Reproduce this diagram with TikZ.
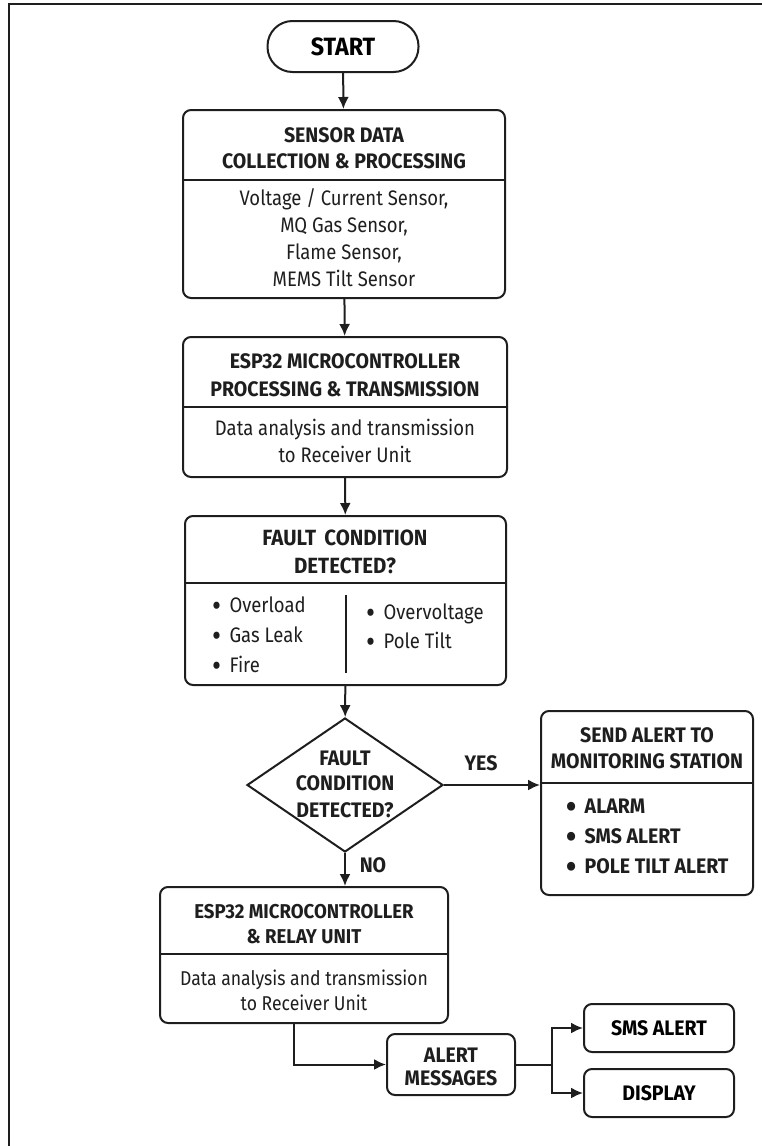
\documentclass[tikz,border=0pt]{standalone}
\usepackage{fontspec}
\setmainfont{Fira Sans}[FakeStretch=0.88, BoldFeatures={FakeStretch=0.93}]
\usetikzlibrary{positioning,shapes.geometric,arrows.meta}
\definecolor{ink}{RGB}{30,30,30}
\newcommand{\blt}{\smash{\raisebox{-0.2em}{\scalebox{1.5}{•}}}\hspace{0.4em}}

\begin{document}
\begin{tikzpicture}[x=1pt,y=-1pt]
	\tikzstyle{box}=[draw=ink, line width=2pt, rounded corners=8pt, inner sep=0pt]
	\tikzstyle{ttl}=[font=\bfseries\fontsize{21}{25}\selectfont, text=ink, anchor=base, inner sep=0pt]
	\tikzstyle{txt}=[font=\fontsize{21}{25}\selectfont, text=ink, anchor=base, inner sep=0pt]
	\tikzstyle{sep}=[draw=ink, line width=1.8pt]
	\tikzstyle{flow}=[draw=ink, line width=2pt, -{Latex[length=12pt,width=11pt]}]
	
	\useasboundingbox (0,0) rectangle (762,1146);
	\draw[ink, line width=2.5pt] (9,1146) -- (9,4) -- (762,4);
	
	% start
	\node at (343,46.5) [box, rounded corners=25pt, minimum width=151pt, minimum height=51pt, font=\bfseries\fontsize{25}{29}\selectfont] (start) {START};
	
	% sensor block
	\node at (344,204) [box, minimum width=322pt, minimum height=188pt] (sens) {};
	\draw[sep] (sens.west |- 0,180) -- (sens.east |- 0,180);
	\node at (344,142) [ttl] (sensT1) {SENSOR DATA};
	\node at (344,168) [ttl] (sensT2) {COLLECTION \& PROCESSING};
	\node at (344,205) [txt] (sensL1) {Voltage / Current Sensor,};
	\node at (344,232) [txt] (sensL2) {MQ Gas Sensor,};
	\node at (344,259) [txt] (sensL3) {Flame Sensor,};
	\node at (344,286) [txt] (sensL4) {MEMS Tilt Sensor};
	
	\draw[flow] (start) -- (sens);
	
	% esp32 block
	\node at (345,407) [box, minimum width=324pt, minimum height=140pt] (esp) {};
	\draw[sep] (esp.west |- 0,407) -- (esp.east |- 0,407);
	\node at (345,368) [ttl] (espT1) {ESP32 MICROCONTROLLER};
	\node at (345,396) [ttl] (espT2) {PROCESSING \& TRANSMISSION};
	\node at (345,435) [txt] (espL1) {Data analysis and transmission};
	\node at (345,462) [txt] (espL2) {to Receiver Unit};
	
	\draw[flow] (sens) -- (esp);
	
	% fault list block
	\node at (345.5,600.5) [box, minimum width=321pt, minimum height=169pt] (fault) {};
	\draw[sep] (fault.west |- 0,583) -- (fault.east |- 0,583);
	\node at (345,545) [ttl, font=\bfseries\fontsize{22}{26}\selectfont] (faultT1) {FAULT\hspace{0.15em} CONDITION};
	\node at (345,573) [ttl, font=\bfseries\fontsize{22}{26}\selectfont] (faultT2) {DETECTED?};
	\node at (212,612) [txt, anchor=base west] (fOver) {\blt Overload};
	\node at (212,642) [txt, anchor=base west] (fGas) {\blt Gas Leak};
	\node at (212,672) [txt, anchor=base west] (fFire) {\blt Fire};
	\node at (366,619) [txt, anchor=base west] (fVolt) {\blt Overvoltage};
	\node at (366,648) [txt, anchor=base west] (fTilt) {\blt Pole Tilt};
	\draw[sep] (346,595) -- (346,673);
	
	\draw[flow] (esp) -- (fault);
	
	% decision
	\node at (345,785) [diamond, draw=ink, line width=2pt, inner sep=0pt, minimum width=196pt, minimum height=134pt] (dec) {};
	\node at (345,765) [ttl] (decT1) {FAULT};
	\node at (345,790) [ttl] (decT2) {CONDITION};
	\node at (345,817) [ttl] (decT3) {DETECTED?};
	
	\draw[flow] (fault) -- (dec);
	
	% alert to station
	\node at (647,803) [box, minimum width=212pt, minimum height=184pt] (send) {};
	\draw[sep] (send.west |- 0,783) -- (send.east |- 0,783);
	\node at (647,742) [ttl] (sendT1) {SEND ALERT TO};
	\node at (647,768) [ttl] (sendT2) {MONITORING STATION};
	\node at (566,813) [ttl, anchor=base west] (sAlarm) {\blt ALARM};
	\node at (566,843) [ttl, anchor=base west] (sSms) {\blt SMS ALERT};
	\node at (566,873) [ttl, anchor=base west] (sTilt) {\blt POLE TILT ALERT};
	
	\draw[flow] (dec.east) -- (dec.east -| send.west);
	\node at (481,770) [ttl] (yes) {YES};
	
	% relay block
	\node at (304,955) [box, minimum width=288pt, minimum height=136pt] (relay) {};
	\draw[sep] (relay.west |- 0,954) -- (relay.east |- 0,954);
	\node at (304,918) [ttl, font=\bfseries\fontsize{20}{24}\selectfont] (relayT1) {ESP32 MICROCONTROLLER};
	\node at (304,943) [ttl, font=\bfseries\fontsize{20}{24}\selectfont] (relayT2) {\& RELAY UNIT};
	\node at (304,985) [txt, font=\fontsize{20}{24}\selectfont] (relayL1) {Data analysis and transmission};
	\node at (304,1010) [txt, font=\fontsize{20}{24}\selectfont] (relayL2) {to Receiver Unit};
	
	\draw[flow] (dec.south) -- (dec.south |- relay.north);
	\node at (373,872) [ttl] (no) {NO};
	
	% outputs
	\node at (451,1064.5) [box, minimum width=128pt, minimum height=61pt] (msg) {};
	\node at (451,1062) [ttl] (msgT1) {ALERT};
	\node at (451,1085) [ttl] (msgT2) {MESSAGES};
	\node at (659,1028) [box, minimum width=150pt, minimum height=48pt, font=\bfseries\fontsize{21}{25}\selectfont] (sms) {SMS ALERT};
	\node at (659,1093) [box, minimum width=150pt, minimum height=48pt, font=\bfseries\fontsize{21}{25}\selectfont] (disp) {DISPLAY};
	
	\coordinate (relayout) at (294,1023);
	\coordinate (fork) at (552,1064.5);
	\draw[flow] (relayout) |- (msg);
	\draw[draw=ink, line width=2pt] (msg) -- (fork);
	\draw[flow] (fork) |- (sms);
	\draw[flow] (fork) |- (disp);
\end{tikzpicture}
\end{document}
